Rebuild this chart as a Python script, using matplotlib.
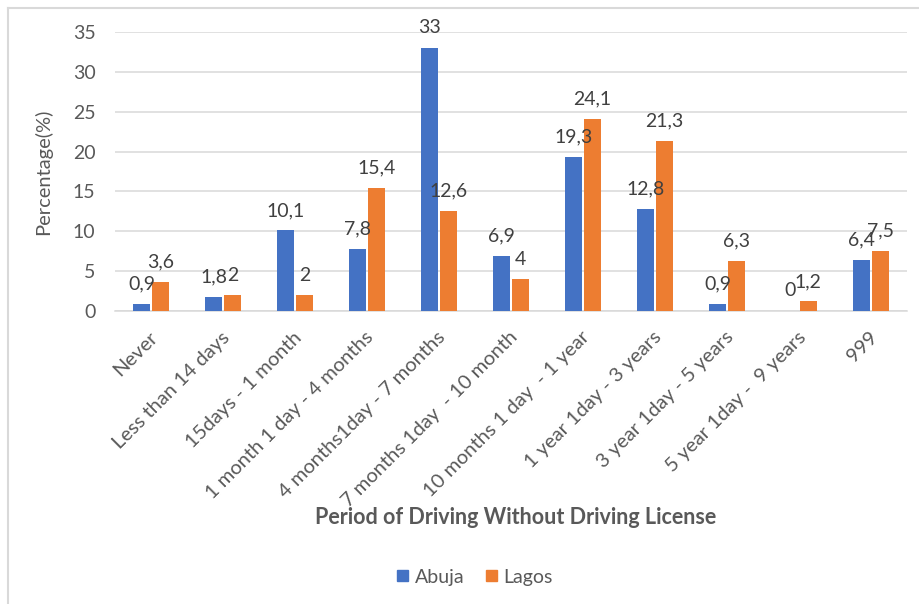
import matplotlib
matplotlib.use("Agg")
import matplotlib.pyplot as plt
from matplotlib.patches import Patch
from matplotlib.lines import Line2D
from matplotlib.transforms import ScaledTranslation
import numpy as np

categories = [
    "Never", "Less than 14 days", "15days - 1 month", "1 month 1 day - 4 months",
    "4 months1day - 7 months", "7 months 1day  - 10 month", "10 months 1 day  - 1 year",
    "1 year 1day - 3 years", "3 year 1day - 5 years", "5 year 1day -  9 years", "999",
]
abuja = [0.9, 1.8, 10.1, 7.8, 33, 6.9, 19.3, 12.8, 0.9, 0, 6.4]
lagos = [3.6, 2, 2, 15.4, 12.6, 4, 24.1, 21.3, 6.3, 1.2, 7.5]
yticks = [0, 5, 10, 15, 20, 25, 30, 35]

BLUE = "#4472C4"
ORANGE = "#ED7D31"
GRID = "#D9D9D9"
TICK_COLOR = "#595959"
LABEL_COLOR = "#404040"
FS = 14

plt.rcParams["font.family"] = ["Lato", "DejaVu Sans"]

W, H = 919, 604
fig = plt.figure(figsize=(W / 100, H / 100), dpi=100)
ax = fig.add_axes([115 / W, 1 - 311 / H, (907 - 115) / W, (311 - 32) / H])

x = np.arange(len(categories))
bw = 0.23
off = 0.13
ax.bar(x - off, abuja, width=bw, color=BLUE, zorder=3, label="Abuja")
ax.bar(x + off, lagos, width=bw, color=ORANGE, zorder=3, label="Lagos")


def fmt(v):
    return f"{v:g}".replace(".", ",")


for xs, vals in ((x - off, abuja), (x + off, lagos)):
    for xi, v in zip(xs, vals):
        ax.annotate(fmt(v), (xi, v), xytext=(0, 14.4), textcoords="offset points",
                    ha="center", va="center", fontsize=FS, color=LABEL_COLOR,
                    zorder=4, annotation_clip=False)

ax.set_xlim(-0.5, len(categories) - 0.5)
ax.set_ylim(0, 35)
ax.set_yticks(yticks)
ax.set_yticklabels([str(t) for t in yticks], fontsize=FS, color=TICK_COLOR)
ax.yaxis.grid(True, color=GRID, linewidth=1.1, zorder=0)
ax.set_axisbelow(True)
for s in ["top", "right", "left"]:
    ax.spines[s].set_visible(False)
ax.spines["bottom"].set_color(GRID)
ax.spines["bottom"].set_linewidth(1.1)
ax.tick_params(axis="both", length=0)
ax.tick_params(axis="y", pad=14)

ax.set_xticks(x)
ax.set_xticklabels(categories, rotation=45, ha="right", va="center",
                   rotation_mode="anchor", fontsize=14.5, color=TICK_COLOR)
ax.tick_params(axis="x", pad=17)
# nudge the slanted category labels slightly to the right
shift = ScaledTranslation(4 / 100, 0, fig.dpi_scale_trans)
for lab in ax.get_xticklabels():
    lab.set_transform(lab.get_transform() + shift)

ax.set_ylabel("Percentage(%)", fontsize=FS + 0.5, color=TICK_COLOR)
ax.yaxis.set_label_coords((52 - 115) / (907 - 115), 0.5)

fig.text(516 / W, 1 - 518 / H, "Period of Driving Without Driving License",
         ha="center", va="center", fontsize=15.5, fontweight="bold", color=TICK_COLOR)

handles = [Patch(color=BLUE, label="Abuja"), Patch(color=ORANGE, label="Lagos")]
fig.legend(handles=handles, loc="center", bbox_to_anchor=(475 / W, 1 - 577 / H),
           ncol=2, frameon=False, fontsize=FS, handlelength=0.55, handleheight=0.55,
           handletextpad=0.35, columnspacing=1.1, labelcolor=TICK_COLOR)

# outer chart border
bx, by = 7.5 / W, 1 - 7.5 / H
fig.add_artist(Line2D([bx, bx], [0, by], transform=fig.transFigure, color=GRID, lw=1.5))
fig.add_artist(Line2D([bx, 1], [by, by], transform=fig.transFigure, color=GRID, lw=1.5))

fig.savefig("out.png", dpi=100, facecolor="white")
